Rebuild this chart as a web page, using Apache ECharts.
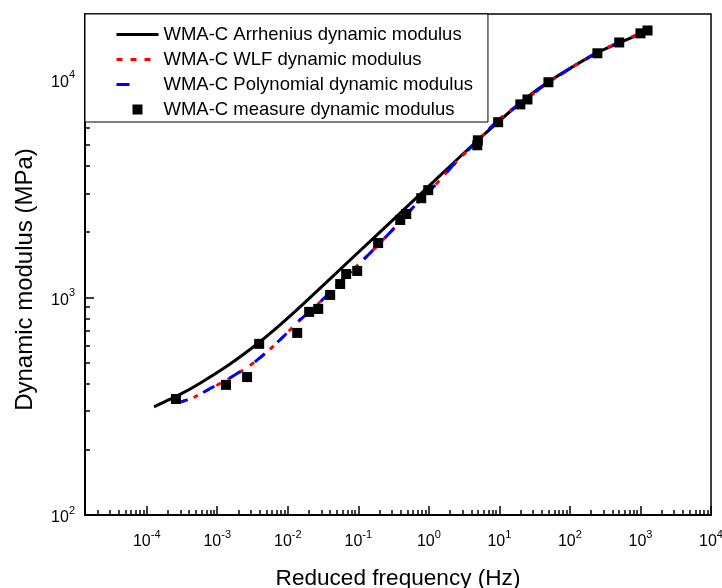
<!DOCTYPE html>
<html>
<head>
<meta charset="utf-8">
<script src="https://cdn.jsdelivr.net/npm/echarts@6/dist/echarts.min.js"></script>
<style>
html,body{margin:0;padding:0;background:#fff;}
#chart{width:722px;height:588px;}
</style>
</head>
<body>
<div id="chart"></div>
<script>
// ---- data ----
var seriesNames = [
  'WMA-C Arrhenius dynamic modulus',
  'WMA-C WLF dynamic modulus',
  'WMA-C Polynomial dynamic modulus',
  'WMA-C measure dynamic modulus'
];
var arrFreq = [1.269e-4, 2.967e-4, 5.70e-4, 1.519e-3, 3.791e-3, 7.776e-3, 1.648e-2, 7.65e-2, 0.3917, 0.9775, 4.843, 19.72, 49.23, 243.9, 500.4, 1249];
var arrMod  = [314, 358, 403, 494, 615, 747, 930, 1483, 2436, 3217, 5234, 7803, 9739, 13286, 14751, 16748];

var wlfFreq = [3.07e-4, 4.84e-4, 7.9e-4, 1.38e-3, 2.1e-3, 3.43e-3, 5.08e-3, 9.16e-3, 0.0149, 0.0287, 0.0552, 0.138, 0.355, 0.64, 1.23, 2.21, 3.85, 10.3, 23.2, 49.2, 244, 500, 1170];
var wlfMod  = [331, 349, 380, 418, 454, 505, 561, 671, 787, 951, 1175, 1563, 2146, 2650, 3274, 4045, 4840, 6640, 8040, 9710, 13330, 14830, 16670];

var polyFreq = [3.07e-4, 4.84e-4, 7.9e-4, 1.38e-3, 2.1e-3, 3.43e-3, 5.08e-3, 9.16e-3, 0.0149, 0.0287, 0.0552, 0.138, 0.355, 0.64, 1.23, 2.21, 3.85, 10.3, 23.2, 49.2, 244, 500, 1170];
var polyMod  = [331, 349, 381, 419, 455, 506, 562, 671, 787, 951, 1175, 1563, 2146, 2650, 3274, 4045, 4840, 6640, 8040, 9710, 13330, 14830, 16670];

var measFreq = [2.6e-4, 1.33e-3, 2.65e-3, 3.93e-3, 1.36e-2, 2.01e-2, 2.7e-2, 3.99e-2, 5.53e-2, 6.73e-2, 9.64e-2, 0.191, 0.393, 0.478, 0.78, 0.98, 4.86, 4.95, 9.6, 19.8, 25, 49.6, 245, 500, 1000, 1260];
var measMod  = [341, 396, 430, 611, 686, 857, 884, 1025, 1151, 1279, 1321, 1774, 2264, 2412, 2851, 3104, 4990, 5260, 6370, 7690, 8100, 9720, 13200, 14800, 16300, 16800];

var xMajorTicks = [1e-4, 1e-3, 1e-2, 1e-1, 1, 10, 100, 1000, 10000];
var yMajorTicks = [100, 1000, 10000];
var xMin = 1.334e-5, xMax = 1e4;
var yMin = 100, yMax = 20000;

// minor tick values (2..9 per decade)
function minorList(lo, hi, kFrom, kTo) {
  var out = [];
  for (var k = kFrom; k <= kTo; k++) {
    for (var m = 2; m <= 9; m++) {
      var v = m * Math.pow(10, k);
      if (v > lo && v < hi) out.push(v);
    }
  }
  return out;
}
var xMinorTicks = minorList(xMin, xMax, -5, 3);
var yMinorTicks = minorList(yMin, yMax, 2, 4);

function pairs(xs, ys) { return xs.map(function (x, i) { return [x, ys[i]]; }); }

var FONT = 'Liberation Sans, Arial, sans-serif';
function powLabel(v) {
  var e = Math.round(Math.log10(v));
  return '{b|10}{s|' + e + '}';
}
var labelRich = {
  b: {fontSize: 16, lineHeight: 26, fontFamily: FONT, color: '#000'},
  s: {fontSize: 11, lineHeight: 11, verticalAlign: 'top', fontFamily: FONT, color: '#000'}
};
var gridRect = {left: 85, top: 14, right: 11, bottom: 73};

var chart = echarts.init(document.getElementById('chart'));
chart.setOption({
  backgroundColor: '#fff',
  animation: false,
  grid: [
    Object.assign({show: true, borderColor: '#000', borderWidth: 1.5, backgroundColor: 'transparent', containLabel: false, outerBoundsMode: 'none'}, gridRect),
    Object.assign({show: false, containLabel: false, outerBoundsMode: 'none'}, gridRect)
  ],
  xAxis: [
    {
      type: 'log', gridIndex: 0, min: xMin, max: xMax, logBase: 10,
      name: 'Reduced frequency (Hz)', nameLocation: 'middle', nameGap: 52,
      nameTextStyle: {fontSize: 22.6, fontFamily: FONT, color: '#000'},
      axisLine: {show: true, lineStyle: {color: '#000', width: 2}},
      axisTick: {show: true, inside: true, length: 9, customValues: xMajorTicks, lineStyle: {color: '#000', width: 1.5}},
      axisLabel: {show: true, margin: 14, customValues: xMajorTicks, formatter: powLabel, rich: labelRich, showMinLabel: true, showMaxLabel: true},
      splitLine: {show: false}, minorTick: {show: false}
    },
    {
      type: 'log', gridIndex: 1, min: xMin, max: xMax, logBase: 10,
      axisLine: {show: false},
      axisTick: {show: true, inside: true, length: 5, customValues: xMinorTicks, lineStyle: {color: '#000', width: 1.5}},
      axisLabel: {show: false}, splitLine: {show: false}
    }
  ],
  yAxis: [
    {
      type: 'log', gridIndex: 0, min: yMin, max: yMax, logBase: 10,
      name: 'Dynamic modulus (MPa)', nameLocation: 'middle', nameGap: 48,
      nameTextStyle: {fontSize: 24, fontFamily: FONT, color: '#000', padding: [0, 30, 0, 0]},
      axisLine: {show: true, lineStyle: {color: '#000', width: 2}},
      axisTick: {show: true, inside: true, length: 9, customValues: yMajorTicks, lineStyle: {color: '#000', width: 1.5}},
      axisLabel: {show: true, margin: 10, customValues: yMajorTicks, formatter: powLabel, rich: labelRich, padding: [6, 0, 0, 0]},
      splitLine: {show: false}
    },
    {
      type: 'log', gridIndex: 1, min: yMin, max: yMax, logBase: 10,
      axisLine: {show: false},
      axisTick: {show: true, inside: true, length: 5, customValues: yMinorTicks, lineStyle: {color: '#000', width: 1.5}},
      axisLabel: {show: false}, splitLine: {show: false}
    }
  ],
  legend: {
    show: true, orient: 'vertical', left: 85, top: 14,
    backgroundColor: '#fff', borderColor: '#000', borderWidth: 1,
    padding: [8, 15, 0, 30], itemGap: 0, itemWidth: 42, itemHeight: 10,
    symbolKeepAspect: true,
    textStyle: {fontSize: 18.5, fontFamily: FONT, color: '#000', lineHeight: 25},
    data: [
      {name: seriesNames[0], itemStyle: {opacity: 0, color: 'transparent', borderWidth: 0},
       lineStyle: {width: 3, color: '#000', type: 'solid'}},
      {name: seriesNames[1], itemStyle: {opacity: 0, color: 'transparent', borderWidth: 0},
       lineStyle: {width: 3, color: '#ff0000', type: [6, 8]}},
      {name: seriesNames[2], itemStyle: {opacity: 0, color: 'transparent', borderWidth: 0},
       lineStyle: {width: 3, color: '#0000ff', type: [13, 40], dashOffset: 0}},
      {name: seriesNames[3], icon: 'path://M0,0L10,0L10,10L0,10Z', itemStyle: {color: '#000', opacity: 1}}
    ]
  },
  series: [
    {
      name: seriesNames[0], type: 'line', xAxisIndex: 0, yAxisIndex: 0,
      data: pairs(arrFreq, arrMod), showSymbol: false, symbol: 'none', smooth: 0.2,
      lineStyle: {color: '#000', width: 3, type: 'solid'}, itemStyle: {color: '#000'}, z: 2
    },
    {
      name: seriesNames[1], type: 'line', xAxisIndex: 0, yAxisIndex: 0,
      data: pairs(wlfFreq, wlfMod), showSymbol: false, symbol: 'none', smooth: 0.2,
      lineStyle: {color: '#ff0000', width: 3, type: [5, 8]}, itemStyle: {color: '#ff0000'}, z: 3
    },
    {
      name: seriesNames[2], type: 'line', xAxisIndex: 0, yAxisIndex: 0,
      data: pairs(polyFreq, polyMod), showSymbol: false, symbol: 'none', smooth: 0.2,
      lineStyle: {color: '#0000ff', width: 3, type: [13, 17], dashOffset: 6}, itemStyle: {color: '#0000ff'}, z: 4
    },
    {
      name: seriesNames[3], type: 'scatter', xAxisIndex: 0, yAxisIndex: 0,
      data: pairs(measFreq, measMod), symbol: 'rect', symbolSize: 10,
      itemStyle: {color: '#000', opacity: 1}, z: 5
    }
  ]
});
</script>
</body>
</html>
